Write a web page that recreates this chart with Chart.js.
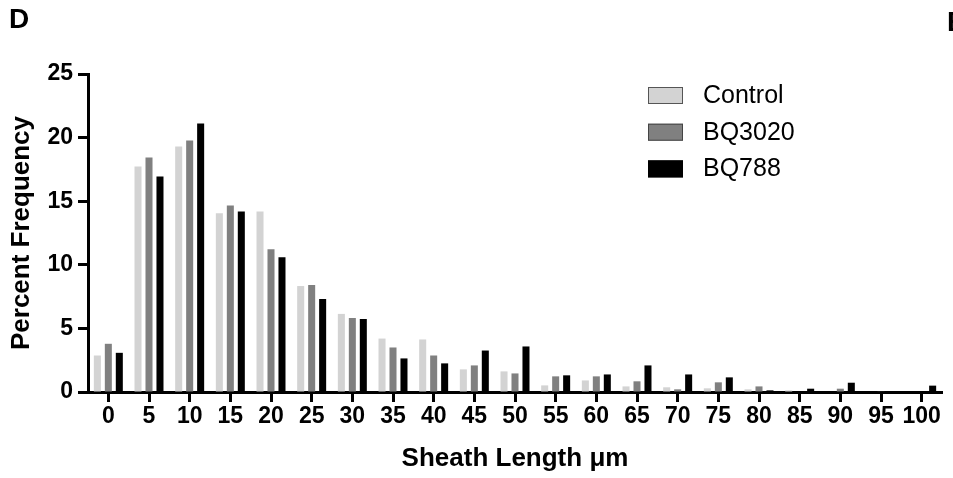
<!DOCTYPE html>
<html>
<head>
<meta charset="utf-8">
<script src="https://cdn.jsdelivr.net/npm/chart.js@4"></script>
<style>
  html, body { margin: 0; padding: 0; background: #fff; }
  #wrap { width: 953px; height: 478px; }
</style>
</head>
<body>
<div id="wrap"><canvas id="sheathChart" width="953" height="478"></canvas></div>
<script>
// sheath length bins (um)
const bins = ['0', '5', '10', '15', '20', '25', '30', '35', '40', '45', '50',
              '55', '60', '65', '70', '75', '80', '85', '90', '95', '100'];

// percent frequency per group
const control = [2.87, 17.73, 19.3, 14.05, 14.2, 8.33, 6.14, 4.2, 4.13, 1.78, 1.62,
                 0.52, 0.91, 0.44, 0.37, 0.29, 0.21, 0.13, 0, 0, 0];
const bq3020 = [3.79, 18.43, 19.77, 14.67, 11.23, 8.41, 5.82, 3.5, 2.87, 2.09, 1.46,
                1.23, 1.23, 0.84, 0.21, 0.76, 0.44, 0, 0.26, 0.05, 0];
const bq788 = [3.08, 16.95, 21.1, 14.2, 10.6, 7.31, 5.74, 2.64, 2.25, 3.26, 3.58,
               1.31, 1.38, 2.09, 1.38, 1.15, 0.13, 0.26, 0.73, 0, 0.5];

const yTicks = [0, 5, 10, 15, 20, 25];

const FONT = 'Liberation Sans, Arial, Helvetica, sans-serif';

// legend + panel letters, drawn by hand so they sit where the figure has them
const panelPlugin = {
    id: 'panelPlugin',
    afterDraw(chart) {
        const ctx = chart.ctx;
        ctx.save();
        ctx.fillStyle = '#000';
        ctx.textBaseline = 'alphabetic';
        ctx.textAlign = 'left';
        ctx.font = 'bold 28px ' + FONT;
        ctx.fillText('D', 9, 28);
        ctx.fillText('E', 947, 31);

        const borders = ['#555', '#444', '#000'];
        chart.data.datasets.forEach((ds, i) => {
            const y = 87 + i * 36.7;
            ctx.fillStyle = ds.backgroundColor;
            ctx.fillRect(648, y, 35, 17);
            ctx.strokeStyle = borders[i];
            ctx.lineWidth = 1;
            ctx.strokeRect(648.5, y + 0.5, 34, 16);
            ctx.fillStyle = '#000';
            ctx.font = '25px ' + FONT;
            ctx.textBaseline = 'middle';
            ctx.fillText(ds.label, 703, y + 9);
        });
        ctx.restore();
    }
};

const ctx = document.getElementById('sheathChart').getContext('2d');

new Chart(ctx, {
    type: 'bar',
    data: {
        labels: bins,
        datasets: [
            { label: 'Control', data: control, backgroundColor: '#d3d3d3' },
            { label: 'BQ3020', data: bq3020, backgroundColor: '#808080' },
            { label: 'BQ788', data: bq788, backgroundColor: '#000000' }
        ]
    },
    options: {
        responsive: false,
        animation: false,
        layout: { padding: { top: 74, right: 11, bottom: 0, left: 0 } },
        datasets: {
            bar: { categoryPercentage: 0.81, barPercentage: 0.64, borderWidth: 0 }
        },
        plugins: {
            legend: { display: false },
            tooltip: { enabled: false }
        },
        scales: {
            x: {
                offset: true,
                grid: {
                    offset: false,
                    drawOnChartArea: false,
                    drawTicks: true,
                    tickLength: 10,
                    tickWidth: 3,
                    color: '#000'
                },
                border: { color: '#000', width: 3 },
                ticks: {
                    color: '#000',
                    padding: 1,
                    maxRotation: 0,
                    autoSkip: false,
                    font: { family: FONT, size: 23, weight: 'bold' }
                },
                title: {
                    display: true,
                    text: 'Sheath Length \u03bcm',
                    color: '#000',
                    padding: { top: 0, bottom: 4 },
                    font: { family: FONT, size: 26, weight: 'bold' }
                },
                afterFit(scale) { scale.height = 86; }
            },
            y: {
                min: 0,
                max: 25,
                afterBuildTicks(scale) {
                    scale.ticks = yTicks.map(v => ({ value: v }));
                },
                grid: {
                    drawOnChartArea: false,
                    drawTicks: true,
                    tickLength: 10,
                    tickWidth: 3,
                    color: '#000'
                },
                border: { color: '#000', width: 3 },
                ticks: {
                    color: '#000',
                    padding: 5,
                    font: { family: FONT, size: 23, weight: 'bold' }
                },
                title: {
                    display: true,
                    text: 'Percent Frequency',
                    color: '#000',
                    padding: { top: 6, bottom: 0 },
                    font: { family: FONT, size: 26, weight: 'bold' }
                },
                afterFit(scale) { scale.width = 88; }
            }
        }
    },
    plugins: [panelPlugin]
});
</script>
</body>
</html>
